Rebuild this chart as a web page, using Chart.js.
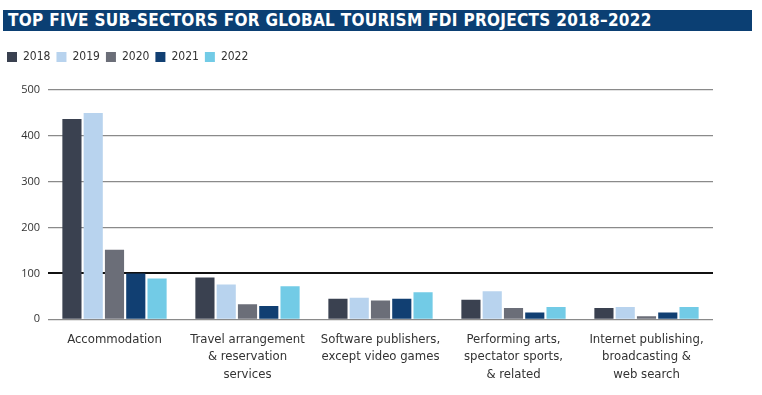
<!DOCTYPE html>
<html>
<head>
<meta charset="utf-8">
<script src="https://cdn.jsdelivr.net/npm/chart.js@4"></script>
<style>
  html, body { margin: 0; padding: 0; background: #fff; }
  #wrap { position: relative; width: 762px; height: 395px; }
  #title {
    position: absolute; left: 3px; top: 10px; width: 749px; height: 21px;
    background: #0b3f73; color: #fff;
    font-family: 'DejaVu Sans Condensed', 'DejaVu Sans', sans-serif;
    font-weight: bold; font-size: 17px; line-height: 21px;
    padding-left: 5px; box-sizing: border-box; letter-spacing: 0.3px;
  }
  canvas { position: absolute; left: 0; top: 0; }
</style>
</head>
<body>
<div id="wrap">
  <div id="title">TOP FIVE SUB-SECTORS FOR GLOBAL TOURISM FDI PROJECTS 2018–2022</div>
  <canvas id="fdiChart" width="762" height="395"></canvas>
</div>
<script>
// categories
var sectors = [
    'Accommodation',
    ['Travel arrangement', '& reservation', 'services'],
    ['Software publishers,', 'except video games'],
    ['Performing arts,', 'spectator sports,', '& related'],
    ['Internet publishing,', 'broadcasting &', 'web search']
];

// projects per year
var y2018 = [437, 91, 45, 43, 25];
var y2019 = [450, 76, 47, 61, 27];
var y2020 = [152, 33, 41, 25, 7];
var y2021 = [100, 29, 45, 15, 15];
var y2022 = [89, 72, 59, 27, 27];

var years = ['2018', '2019', '2020', '2021', '2022'];
var colors = ['#3a4150', '#b8d3ee', '#6b6e78', '#113f72', '#72cbe6'];
var series = [y2018, y2019, y2020, y2021, y2022];

var condensed = "'DejaVu Sans Condensed', sans-serif";

var ctx = document.getElementById('fdiChart').getContext('2d');

// push the plot area down below the legend
var legendGap = {
    id: 'legendGap',
    beforeInit: function (chart) {
        var fit = chart.legend.fit;
        chart.legend.fit = function () {
            fit.bind(chart.legend)();
            this.height += 17;
        };
    }
};

var chart = new Chart(ctx, {
    type: 'bar',
    data: {
        labels: sectors,
        datasets: years.map(function (y, i) {
            return {
                label: y,
                data: series[i],
                backgroundColor: colors[i],
                barPercentage: 0.9,
                categoryPercentage: 0.8
            };
        })
    },
    options: {
        responsive: false,
        animation: false,
        layout: { padding: { top: 45, right: 49, left: 1, bottom: 9 } },
        plugins: {
            legend: {
                align: 'start',
                labels: {
                    boxWidth: 10,
                    boxHeight: 10,
                    padding: 6,
                    color: '#333',
                    font: { family: condensed, size: 12 }
                }
            },
            tooltip: { enabled: false }
        },
        scales: {
            x: {
                grid: { display: false },
                border: { display: false },
                ticks: {
                    maxRotation: 0,
                    autoSkip: false,
                    color: '#333',
                    font: { family: condensed, size: 13, lineHeight: 1.35 }
                }
            },
            y: {
                min: 0,
                max: 500,
                border: { display: false },
                afterFit: function (scale) { scale.width = 47; },
                grid: {
                    drawTicks: false,
                    color: function (c) { return c.tick.value === 100 ? '#111' : '#8a8a8a'; },
                    lineWidth: function (c) { return c.tick.value === 100 ? 2 : 1.2; }
                },
                ticks: {
                    stepSize: 100,
                    padding: 8,
                    color: '#333',
                    font: { family: "'Open Sans', sans-serif", size: 11 }
                }
            }
        }
    },
    plugins: [legendGap]
});
</script>
</body>
</html>
